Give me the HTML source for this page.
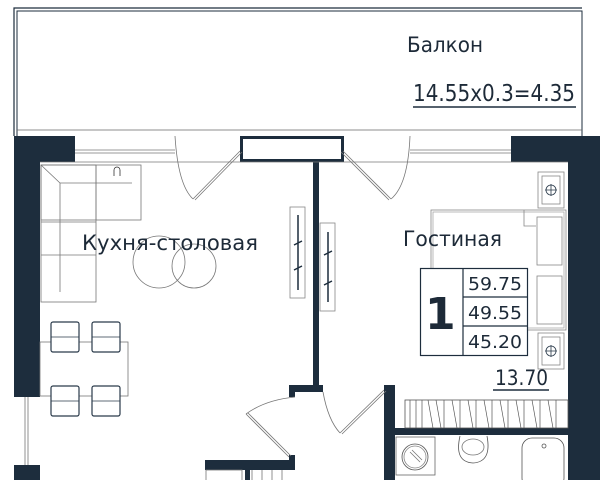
<!DOCTYPE html>
<html><head><meta charset="utf-8"><style>
html,body{margin:0;padding:0;background:#fff;width:610px;height:480px;overflow:hidden}
svg{display:block}
text{font-family:"DejaVu Sans","Liberation Sans",sans-serif;fill:#1d2a38}
</style></head><body>
<svg width="610" height="480" viewBox="0 0 610 480" xmlns="http://www.w3.org/2000/svg">
<g fill="none" stroke="#1d2d3d">
<path d="M14 136 V8 H582" stroke-width="1.2"/>
<path d="M17 136 V11 H582 V136" stroke-width="1"/>
<line x1="17" y1="130" x2="582" y2="130" stroke-width="0.8" stroke="#666"/>
<line x1="413" y1="107" x2="576" y2="107" stroke-width="1.5"/>
</g>
<text x="407" y="52" font-size="21" textLength="76" lengthAdjust="spacingAndGlyphs">Балкон</text>
<text x="413" y="101" font-size="23" textLength="162" lengthAdjust="spacingAndGlyphs">14.55x0.3=4.35</text>

<g fill="#1d2d3d">
<rect x="14" y="136" width="61" height="26"/>
<rect x="14" y="136" width="26" height="261"/>
<rect x="14" y="465" width="26" height="15"/>
<rect x="511" y="136" width="89" height="26"/>
<rect x="568" y="136" width="32" height="344"/>
<rect x="313" y="160" width="6" height="230"/>
<rect x="289" y="385" width="34" height="7"/>
<rect x="289" y="385" width="6" height="12"/>
<rect x="384" y="385" width="11" height="95"/>
<rect x="395" y="428" width="173" height="7"/>
<rect x="205" y="460" width="90" height="10"/>
<rect x="289" y="455" width="6" height="15"/>
<rect x="245" y="470" width="5" height="10"/>
</g>
<g fill="none" stroke="#1d2d3d">
<rect x="241.5" y="137.5" width="101" height="23" stroke-width="3"/>
</g>
<g fill="none" stroke="#777" stroke-width="0.8">
<line x1="75" y1="150" x2="175" y2="150"/><line x1="75" y1="153" x2="175" y2="153"/>
<line x1="410" y1="150" x2="511" y2="150"/><line x1="410" y1="153" x2="511" y2="153"/>
<line x1="40" y1="162" x2="568" y2="162"/>
<line x1="25" y1="397" x2="25" y2="465"/><line x1="28" y1="397" x2="28" y2="465"/>
<path d="M175 136 Q178 185 193 199"/><path d="M193 199 L240 151 M195 200 L242 152"/>
<path d="M410 136 Q408 185 391 199"/><path d="M391 199 L343 151 M389 200 L341 152"/>
<path d="M295 397 Q265 400 246 414"/><path d="M246 414 L289 457 M248 413 L291 456"/>
<path d="M323 392 Q328 420 340 433"/><path d="M340 433 L384 390 M342 434 L386 391"/>
<rect x="41" y="165" width="100" height="55"/>
<rect x="41" y="165" width="55" height="137"/>
<path d="M41 165 L60 183 H132 M60 183 V292"/>
<line x1="41" y1="222" x2="96" y2="222"/><line x1="41" y1="255" x2="96" y2="255"/>
<line x1="96" y1="165" x2="96" y2="220"/>
<path d="M114 176 V170 A3 3 0 0 1 120 170 V176" stroke="#333"/>
<circle cx="159" cy="262" r="26"/><circle cx="194" cy="266" r="22"/>
<rect x="40" y="342" width="88" height="54"/>
</g>
<g fill="#fff" stroke="#2a3a4a" stroke-width="1.2">
<rect x="51" y="322" width="28" height="30" rx="2"/><rect x="92" y="322" width="28" height="30" rx="2"/>
<rect x="51" y="386" width="28" height="30" rx="2"/><rect x="92" y="386" width="28" height="30" rx="2"/>
</g>
<g fill="none" stroke="#2a3a4a" stroke-width="0.8">
<line x1="51" y1="337" x2="79" y2="337"/><line x1="92" y1="337" x2="120" y2="337"/>
<line x1="51" y1="401" x2="79" y2="401"/><line x1="92" y1="401" x2="120" y2="401"/>
<rect x="290" y="207" width="15" height="91" stroke="#888"/>
<rect x="320" y="223" width="15" height="88" stroke="#888"/>
<path d="M298 215 V290 M294 245 L302 241 M294 270 L302 266" stroke="#1d2d3d" stroke-width="1.5"/>
<path d="M328 232 V302 M324 255 L332 251 M324 285 L332 281" stroke="#1d2d3d" stroke-width="1.5"/>
<rect x="431" y="210" width="135" height="120" stroke="#888"/>
<rect x="433" y="212" width="131" height="116" stroke="#aaa"/>
<rect x="537" y="217" width="25" height="48" stroke="#888"/>
<rect x="537" y="276" width="25" height="48" stroke="#888"/>
<path d="M524 210 V226 H536" stroke="#888"/>
<rect x="538" y="172" width="26" height="36" stroke="#888"/><rect x="542" y="176" width="18" height="28" stroke="#888"/>
<rect x="538" y="333" width="26" height="36" stroke="#888"/><rect x="542" y="337" width="18" height="28" stroke="#888"/>
<circle cx="551" cy="190" r="5"/><path d="M545 190 H557 M551 184 V196"/>
<circle cx="551" cy="351" r="5"/><path d="M545 351 H557 M551 345 V357"/>
<rect x="405" y="400" width="163" height="28" stroke="#555"/>
<path d="M410 400V428M416 400V428M422 400V428M428 400l5 28M436 400l5 28M444 400V428M452 400l5 28M460 400V428M468 400l5 28M476 400V428M484 400l5 28M492 400V428M500 400l5 28M508 400V428M516 400l5 28M524 400V428M532 400l5 28M540 400V428M548 400l5 28M556 400V428" stroke="#555" stroke-width="0.7"/>
<rect x="396" y="437" width="39" height="38" stroke="#666"/>
<circle cx="415" cy="457" r="13" stroke="#555"/><circle cx="415" cy="457" r="11" stroke="#888"/>
<path d="M410 452 L420 462 M412 450 L422 460" stroke="#777"/>
<path d="M460 436 Q454 462 473 463 Q492 462 487 436" stroke="#555"/>
<ellipse cx="473" cy="447" rx="11" ry="8" stroke="#777"/>
<rect x="522" y="438" width="42" height="50" rx="10" stroke="#555"/>
<circle cx="544" cy="446" r="2" stroke="#555"/>
<rect x="206" y="470" width="36" height="12" stroke="#777"/>
<path d="M252 470 V480 M262 470 V480 M272 470 V480 M282 470 V480" stroke="#777"/>
</g>
<text x="82" y="250" font-size="21" textLength="176" lengthAdjust="spacingAndGlyphs">Кухня-столовая</text>
<text x="403" y="246" font-size="21" textLength="99" lengthAdjust="spacingAndGlyphs">Гостиная</text>
<g fill="#fff" stroke="#1d2d3d" stroke-width="1.2">
<rect x="420.5" y="268.5" width="107" height="87"/>
<line x1="463" y1="268" x2="463" y2="356"/>
<line x1="463" y1="297" x2="528" y2="297"/><line x1="463" y1="326" x2="528" y2="326"/>
</g>
<text x="425" y="329" font-size="44" font-weight="bold" fill="#111">1</text>
<text x="468" y="290" font-size="18" textLength="54" lengthAdjust="spacingAndGlyphs">59.75</text>
<text x="468" y="319" font-size="18" textLength="54" lengthAdjust="spacingAndGlyphs">49.55</text>
<text x="468" y="348" font-size="18" textLength="54" lengthAdjust="spacingAndGlyphs">45.20</text>
<text x="495" y="385" font-size="21" textLength="53" lengthAdjust="spacingAndGlyphs">13.70</text>
<line x1="493" y1="390" x2="549" y2="390" stroke="#1d2d3d" stroke-width="1.5"/>
</svg>
</body></html>
